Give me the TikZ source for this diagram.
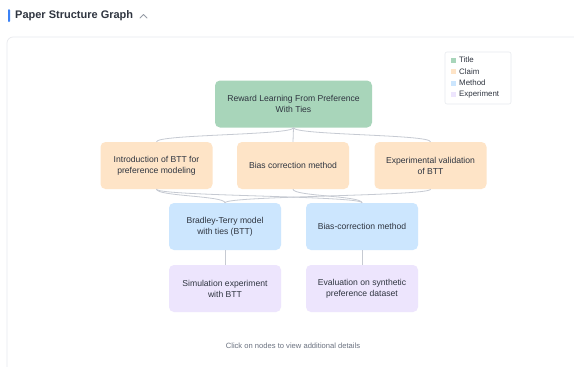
\documentclass[tikz,border=0pt]{standalone}
\usepackage{fontspec}
\setmainfont{Liberation Sans}
\definecolor{titlefill}{HTML}{A8D5BA}
\definecolor{claimfill}{HTML}{FEE4C7}
\definecolor{methodfill}{HTML}{CCE6FE}
\definecolor{exprfill}{HTML}{EDE5FD}
\definecolor{edgegray}{HTML}{C6CAD2}
\definecolor{paneledge}{HTML}{E8EAEE}
\definecolor{inktext}{HTML}{2F3540}
\definecolor{mutedtext}{HTML}{6B7280}
\definecolor{accentblue}{HTML}{3B82F6}
\begin{document}
\begin{tikzpicture}[x=1pt,y=-1pt,
  box/.style={rounded corners=5pt, inner sep=0pt, align=center,
    text=inktext, font=\fontsize{8.6}{11}\selectfont,
    minimum width=112pt, minimum height=47pt},
  titlebox/.style={box, fill=titlefill, minimum width=157pt},
  claimbox/.style={box, fill=claimfill},
  methodbox/.style={box, fill=methodfill},
  exprbox/.style={box, fill=exprfill},
  link/.style={draw=edgegray, line width=0.8pt},
  legendtext/.style={anchor=west, inner sep=0pt, text=inktext,
    font=\fontsize{7.9}{9}\selectfont},
  legendswatch/.style={minimum size=5pt, inner sep=0pt}
]
\useasboundingbox (0,0) rectangle (574,367);
\fill[white] (0,0) rectangle (574,367);

% header
\fill[accentblue, rounded corners=1pt] (8,9) rectangle (10,22);
\node[anchor=west, inner sep=0pt, font=\fontsize{11}{13}\selectfont\bfseries, text=inktext]
  (header) at (15,16) {Paper Structure Graph};
\draw[mutedtext!70, line width=0.8pt, line cap=round, line join=round]
  (140,18) -- (143.5,14.5) -- (147,18);

% panel
\draw[paneledge, line width=0.7pt, rounded corners=6pt] (7,37) rectangle (590,385);

% legend
\draw[paneledge, line width=0.6pt, fill=white, rounded corners=2pt] (445,52) rectangle (511,104);
\node[legendswatch, fill=titlefill] (lsw1) at (453.5,60) {};
\node[legendswatch, fill=claimfill] (lsw2) at (453.5,71.5) {};
\node[legendswatch, fill=methodfill] (lsw3) at (453.5,83) {};
\node[legendswatch, fill=exprfill] (lsw4) at (453.5,94.5) {};
\node[legendtext] (lt1) at (459,60) {Title};
\node[legendtext] (lt2) at (459,71.5) {Claim};
\node[legendtext] (lt3) at (459,83) {Method};
\node[legendtext] (lt4) at (459,94.5) {Experiment};

% nodes
\node[titlebox] (title) at (293.5,104) {Reward Learning From Preference\\With Ties};
\node[claimbox] (c1) at (156.5,165.5) {Introduction of BTT for\\preference modeling};
\node[claimbox] (c2) at (293,165.5) {Bias correction method};
\node[claimbox] (c3) at (430.5,165.5) {Experimental validation\\of BTT};
\node[methodbox] (m1) at (225,226.5) {Bradley-Terry model\\with ties (BTT)};
\node[methodbox] (m2) at (362,226.5) {Bias-correction method};
\node[exprbox] (e1) at (225,288.5) {Simulation experiment\\with BTT};
\node[exprbox] (e2) at (362,288.5) {Evaluation on synthetic\\preference dataset};

% connectors
\foreach \c in {c1,c2,c3}
  \draw[link] (title.south) .. controls +(0,7.5) and +(0,-7.5) .. (\c.north);
\draw[link] (c1.south) .. controls +(0,7) and +(0,-7) .. (m1.north);
\draw[link] (c1.south) .. controls +(0,7) and +(0,-7) .. (m2.north);
\draw[link] (c2.south) .. controls +(0,7) and +(0,-7) .. (m2.north);
\draw[link] (c3.south) .. controls +(0,7) and +(0,-7) .. (m1.north);
\draw[link] (m1.south) -- (e1.north);
\draw[link] (m2.south) -- (e2.north);

% footer hint
\node[inner sep=0pt, text=mutedtext, font=\fontsize{7.6}{9}\selectfont]
  (hint) at (293,346) {Click on nodes to view additional details};
\end{tikzpicture}
\end{document}
